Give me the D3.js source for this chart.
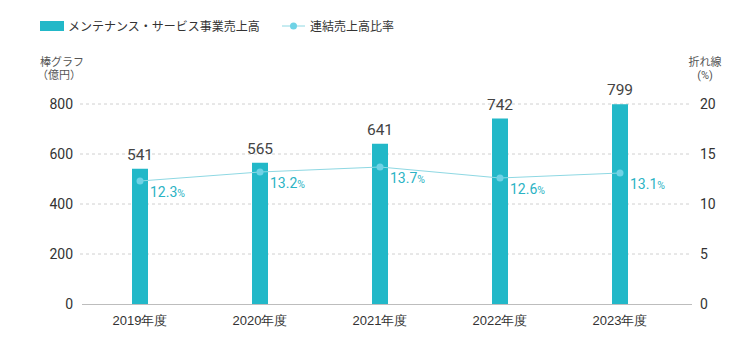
<!DOCTYPE html>
<html><head><meta charset="utf-8">
<script src="https://cdn.jsdelivr.net/npm/d3@7"></script>
<style>
html,body{margin:0;padding:0;background:#fff;}
svg{display:block;font-family:Roboto,"Noto Sans CJK JP",sans-serif;}
</style></head>
<body>
<svg id="c" width="752" height="360"></svg>
<script>
const categories = ["2019年度","2020年度","2021年度","2022年度","2023年度"];
const sales = [541,565,641,742,799];
const ratio = [12.3,13.2,13.7,12.6,13.1];
const leftTicks = [0,200,400,600,800];
const rightTicks = [0,5,10,15,20];
const seriesNames = ["メンテナンス・サービス事業売上高","連結売上高比率"];

const svg = d3.select("#c");
const barColor = "#22b8c8", lineColor = "#8ed8e3", dotColor = "#6fd3e6", pctColor = "#2bb3c4";
const x = d3.scaleBand().domain(categories).range([80,680]).padding(0);
const yL = d3.scaleLinear().domain([0,800]).range([304,104]);
const yR = d3.scaleLinear().domain([0,20]).range([304,104]);
const gridX0 = 80, gridX1 = 692;

// grid
svg.append("g").selectAll("line").data(leftTicks.filter(d=>d>0)).join("line")
  .attr("x1",gridX0).attr("x2",gridX1).attr("y1",d=>yL(d)).attr("y2",d=>yL(d))
  .attr("stroke","#d0d0d0").attr("stroke-dasharray","3,3").attr("stroke-width",1);

// left axis
const axL = svg.append("g").attr("transform","translate(80,0)")
  .call(d3.axisLeft(yL).tickValues(leftTicks).tickSize(0).tickPadding(7));
axL.select(".domain").remove();
axL.selectAll("text").attr("font-size",14).attr("fill","#333").attr("font-family","Roboto,sans-serif");

// right axis
const axR = svg.append("g").attr("transform","translate(692,0)")
  .call(d3.axisRight(yR).tickValues(rightTicks).tickSize(0).tickPadding(8));
axR.select(".domain").remove();
axR.selectAll("text").attr("font-size",14).attr("fill","#333").attr("font-family","Roboto,sans-serif");

// bars
svg.append("g").selectAll("rect").data(sales).join("rect")
  .attr("x",(d,i)=>x(categories[i])+x.bandwidth()/2-8).attr("width",16)
  .attr("y",d=>yL(d)).attr("height",d=>yL(0)-yL(d)).attr("fill",barColor);

// baseline
svg.append("line").attr("x1",82).attr("x2",gridX1).attr("y1",yL(0)+0.5).attr("y2",yL(0)+0.5)
  .attr("stroke","#bdbdbd").attr("stroke-width",1);

// x axis labels
const axB = svg.append("g").attr("transform",`translate(0,${yL(0)})`)
  .call(d3.axisBottom(x).tickSize(0).tickPadding(12));
axB.select(".domain").remove();
axB.selectAll("text").attr("font-size",13).attr("fill","#333");

// bar value labels
svg.append("g").selectAll("text").data(sales).join("text")
  .attr("x",(d,i)=>x(categories[i])+x.bandwidth()/2).attr("y",d=>yL(d)-9)
  .attr("text-anchor","middle").attr("font-size",15.5).attr("font-weight",400)
  .attr("fill","#444").text(d=>d);

// line
const cx = i=>x(categories[i])+x.bandwidth()/2;
svg.append("path").datum(ratio)
  .attr("d",d3.line().x((d,i)=>cx(i)).y(d=>yR(d)))
  .attr("fill","none").attr("stroke",lineColor).attr("stroke-width",1);
svg.append("g").selectAll("circle").data(ratio).join("circle")
  .attr("cx",(d,i)=>cx(i)).attr("cy",d=>yR(d)).attr("r",3.5).attr("fill",dotColor);
const pl = svg.append("g").selectAll("text").data(ratio).join("text")
  .attr("x",(d,i)=>cx(i)+10).attr("y",d=>yR(d)+16)
  .attr("font-size",14).attr("font-weight",400).attr("fill",pctColor);
pl.append("tspan").text(d=>d.toFixed(1));
pl.append("tspan").attr("font-size",10.5).text("%");

// axis titles
svg.append("text").attr("x",40).attr("y",66).attr("font-size",11).attr("fill","#555").text("棒グラフ");
svg.append("text").attr("x",37).attr("y",79).attr("font-size",11).attr("fill","#555").text("（億円）");
svg.append("text").attr("x",705).attr("y",66).attr("font-size",11).attr("fill","#555").attr("text-anchor","middle").text("折れ線");
svg.append("text").attr("x",705).attr("y",79).attr("font-size",11).attr("fill","#555").attr("text-anchor","middle").text("(%)");

// legend
svg.append("rect").attr("x",40).attr("y",21).attr("width",24).attr("height",10).attr("fill",barColor);
svg.append("text").attr("x",68).attr("y",31).attr("font-size",12).attr("fill","#333").text(seriesNames[0]);
svg.append("line").attr("x1",282).attr("x2",305).attr("y1",26).attr("y2",26).attr("stroke",lineColor).attr("stroke-width",1);
svg.append("circle").attr("cx",293.5).attr("cy",26).attr("r",3.5).attr("fill",dotColor);
svg.append("text").attr("x",310).attr("y",31).attr("font-size",12).attr("fill","#333").text(seriesNames[1]);
</script>
</body></html>
